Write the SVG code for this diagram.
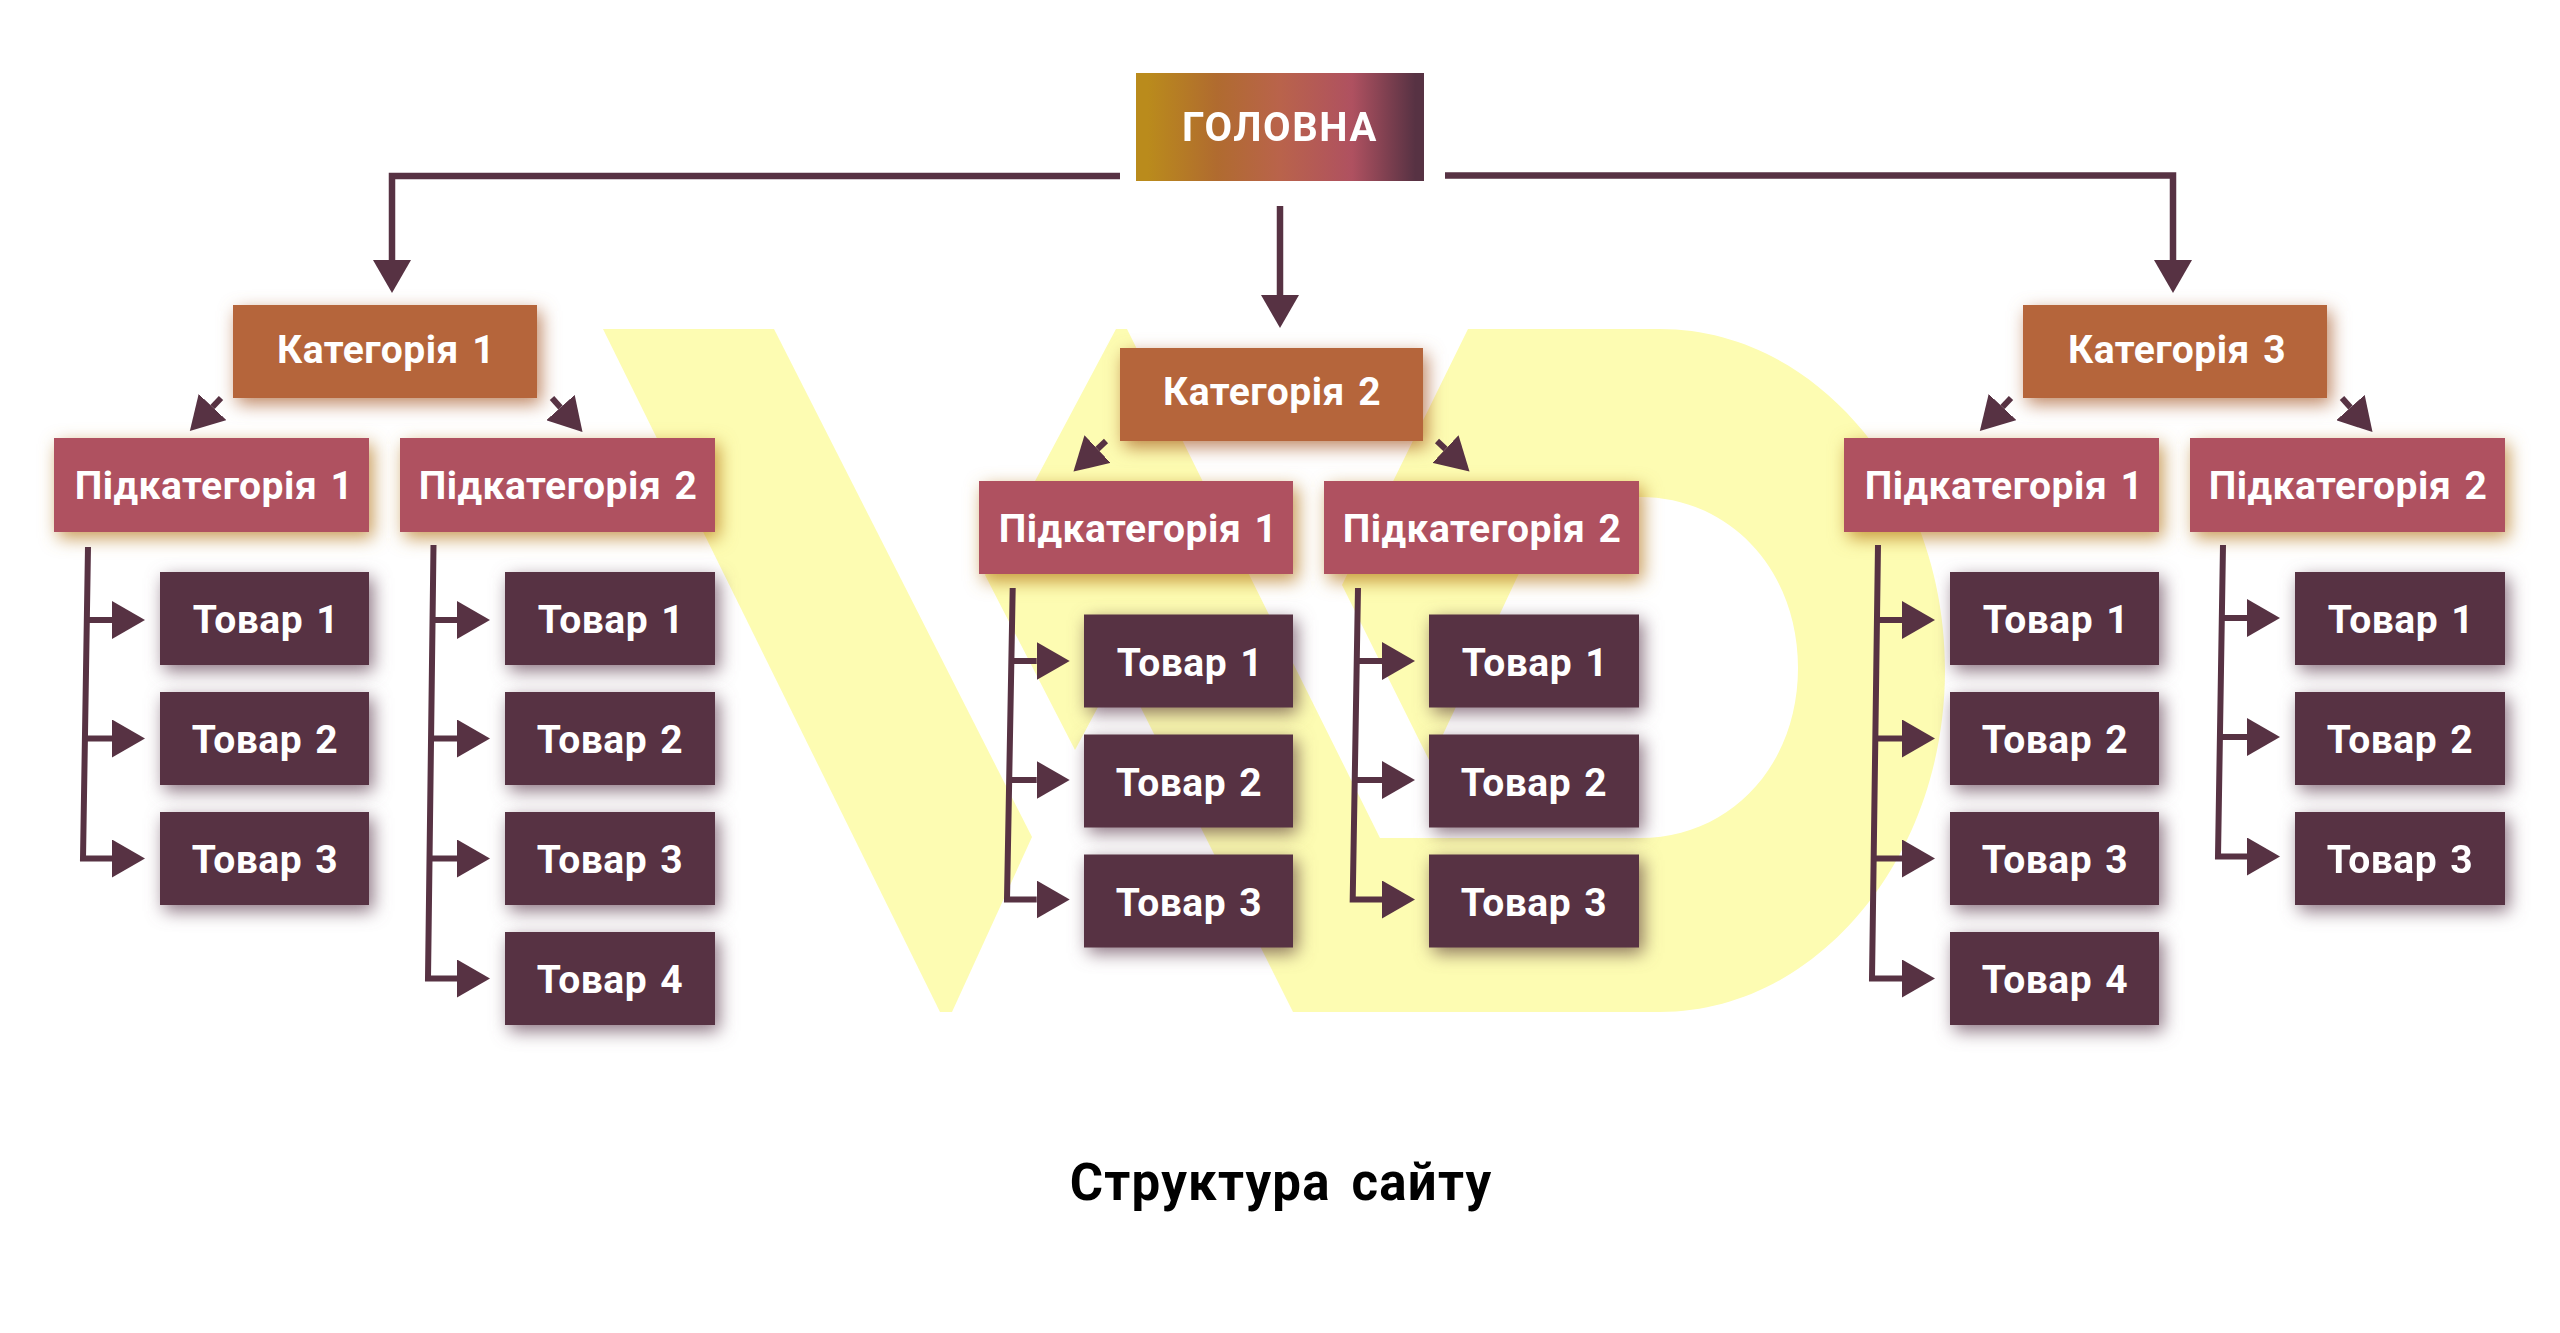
<svg xmlns="http://www.w3.org/2000/svg" width="2560" height="1333" viewBox="0 0 2560 1333">
<style>
text{font-family:Roboto,"Noto Sans","Liberation Sans",sans-serif;font-weight:700;fill:#fff;text-anchor:middle;word-spacing:3px;letter-spacing:.5px}
.t{font-size:39px}
.h{font-size:40px;letter-spacing:1.6px}
.title{font-size:51px;fill:#000;word-spacing:7px;letter-spacing:1.2px}
.kf{fill:#B5653B}.sf{fill:#AF5160}.pf{fill:#573243}
.ks,.ss,.ps{filter:url(#blur);mix-blend-mode:multiply}
.ks{fill:#BE8562}.ss{fill:#C89A55}.ps{fill:#8A7280}
.c{fill:none;stroke:#573243;stroke-width:6.5}
.a{fill:none;stroke:#573243;stroke-width:6;marker-end:url(#ah)}
</style>
<defs>
<filter id="blur" x="-30%" y="-50%" width="160%" height="200%"><feGaussianBlur stdDeviation="9"/></filter>
<linearGradient id="hg" x1="0" x2="1" y1="0" y2="0"><stop offset=".04" stop-color="#BA8B1C"/><stop offset=".28" stop-color="#B06B2F"/><stop offset=".5" stop-color="#B9634B"/><stop offset=".75" stop-color="#AF5160"/><stop offset=".97" stop-color="#573243"/></linearGradient>
<marker id="ah" markerUnits="userSpaceOnUse" markerWidth="34" markerHeight="38" refX="0" refY="19" orient="auto"><path d="M0,0L33,19L0,38Z" fill="#573243"/></marker>
</defs>
<rect width="2560" height="1333" fill="#fff"/>
<g id="watermark" fill="#FDFCB2">
<path d="M603,329L774,329L1032,837L952,1012L940,1012Z"/>
<path d="M1116,329L1127,329L1380,838L1640,838C1730,838 1798,766 1798,668C1798,570 1730,497 1640,497L1555,497L1430,762L1342,585L1468,329L1660,329C1817,329 1945,482 1945,670C1945,858 1817,1012 1660,1012L1293,1012L1120,666L1075,750L985,575Z"/>
</g>
<g id="head"><rect x="1136" y="73" width="288" height="108" fill="url(#hg)"/><text class="h" x="1280" y="141">ГОЛОВНА</text></g>

<g id="cat1"><rect class="ks" x="237" y="311" width="304" height="93"/><rect class="kf" x="233" y="305" width="304" height="93"/><text class="t" x="386" y="363">Категорія 1</text></g>
<g id="cat1-sub1"><rect class="ss" x="58" y="444" width="315" height="94"/><rect class="sf" x="54" y="438" width="315" height="94"/><text class="t" x="214" y="499">Підкатегорія 1</text></g>
<g id="cat1-sub2"><rect class="ss" x="404" y="444" width="315" height="94"/><rect class="sf" x="400" y="438" width="315" height="94"/><text class="t" x="558" y="499">Підкатегорія 2</text></g>
<g id="cat1-sub1-p1"><rect class="ps" x="164" y="578" width="209" height="93"/><rect class="pf" x="160" y="572" width="209" height="93"/><text class="t" x="266" y="633">Товар 1</text></g>
<g id="cat1-sub1-p2"><rect class="ps" x="164" y="698" width="209" height="93"/><rect class="pf" x="160" y="692" width="209" height="93"/><text class="t" x="265" y="753">Товар 2</text></g>
<g id="cat1-sub1-p3"><rect class="ps" x="164" y="818" width="209" height="93"/><rect class="pf" x="160" y="812" width="209" height="93"/><text class="t" x="265" y="873">Товар 3</text></g>
<g id="cat1-sub2-p1"><rect class="ps" x="509" y="578" width="210" height="93"/><rect class="pf" x="505" y="572" width="210" height="93"/><text class="t" x="611" y="633">Товар 1</text></g>
<g id="cat1-sub2-p2"><rect class="ps" x="509" y="698" width="210" height="93"/><rect class="pf" x="505" y="692" width="210" height="93"/><text class="t" x="610" y="753">Товар 2</text></g>
<g id="cat1-sub2-p3"><rect class="ps" x="509" y="818" width="210" height="93"/><rect class="pf" x="505" y="812" width="210" height="93"/><text class="t" x="610" y="873">Товар 3</text></g>
<g id="cat1-sub2-p4"><rect class="ps" x="509" y="938" width="210" height="93"/><rect class="pf" x="505" y="932" width="210" height="93"/><text class="t" x="610" y="993">Товар 4</text></g>

<g id="cat2"><rect class="ks" x="1124" y="354" width="303" height="93"/><rect class="kf" x="1120" y="348" width="303" height="93"/><text class="t" x="1272" y="405">Категорія 2</text></g>
<g id="cat2-sub1"><rect class="ss" x="983" y="487" width="315" height="94"/><rect class="sf" x="979" y="481" width="314" height="93"/><text class="t" x="1138" y="542">Підкатегорія 1</text></g>
<g id="cat2-sub2"><rect class="ss" x="1328" y="487" width="315" height="94"/><rect class="sf" x="1324" y="481" width="315" height="93"/><text class="t" x="1482" y="542">Підкатегорія 2</text></g>
<g id="cat2-sub1-p1"><rect class="ps" x="1088" y="620" width="209" height="93"/><rect class="pf" x="1084" y="614.5" width="209" height="93"/><text class="t" x="1190" y="676">Товар 1</text></g>
<g id="cat2-sub1-p2"><rect class="ps" x="1088" y="740" width="209" height="93"/><rect class="pf" x="1084" y="734.5" width="209" height="93"/><text class="t" x="1189" y="796">Товар 2</text></g>
<g id="cat2-sub1-p3"><rect class="ps" x="1088" y="860" width="209" height="93"/><rect class="pf" x="1084" y="854.5" width="209" height="93"/><text class="t" x="1189" y="916">Товар 3</text></g>
<g id="cat2-sub2-p1"><rect class="ps" x="1433" y="620" width="210" height="93"/><rect class="pf" x="1429" y="614.5" width="210" height="93"/><text class="t" x="1535" y="676">Товар 1</text></g>
<g id="cat2-sub2-p2"><rect class="ps" x="1433" y="740" width="210" height="93"/><rect class="pf" x="1429" y="734.5" width="210" height="93"/><text class="t" x="1534" y="796">Товар 2</text></g>
<g id="cat2-sub2-p3"><rect class="ps" x="1433" y="860" width="210" height="93"/><rect class="pf" x="1429" y="854.5" width="210" height="93"/><text class="t" x="1534" y="916">Товар 3</text></g>

<g id="cat3"><rect class="ks" x="2027" y="311" width="304" height="93"/><rect class="kf" x="2023" y="305" width="304" height="93"/><text class="t" x="2177" y="363">Категорія 3</text></g>
<g id="cat3-sub1"><rect class="ss" x="1848" y="444" width="315" height="94"/><rect class="sf" x="1844" y="438" width="315" height="94"/><text class="t" x="2004" y="499">Підкатегорія 1</text></g>
<g id="cat3-sub2"><rect class="ss" x="2194" y="444" width="315" height="94"/><rect class="sf" x="2190" y="438" width="315" height="94"/><text class="t" x="2348" y="499">Підкатегорія 2</text></g>
<g id="cat3-sub1-p1"><rect class="ps" x="1954" y="578" width="209" height="93"/><rect class="pf" x="1950" y="572" width="209" height="93"/><text class="t" x="2056" y="633">Товар 1</text></g>
<g id="cat3-sub1-p2"><rect class="ps" x="1954" y="698" width="209" height="93"/><rect class="pf" x="1950" y="692" width="209" height="93"/><text class="t" x="2055" y="753">Товар 2</text></g>
<g id="cat3-sub1-p3"><rect class="ps" x="1954" y="818" width="209" height="93"/><rect class="pf" x="1950" y="812" width="209" height="93"/><text class="t" x="2055" y="873">Товар 3</text></g>
<g id="cat3-sub1-p4"><rect class="ps" x="1954" y="938" width="209" height="93"/><rect class="pf" x="1950" y="932" width="209" height="93"/><text class="t" x="2055" y="993">Товар 4</text></g>
<g id="cat3-sub2-p1"><rect class="ps" x="2299" y="578" width="210" height="93"/><rect class="pf" x="2295" y="572" width="210" height="93"/><text class="t" x="2401" y="633">Товар 1</text></g>
<g id="cat3-sub2-p2"><rect class="ps" x="2299" y="698" width="210" height="93"/><rect class="pf" x="2295" y="692" width="210" height="93"/><text class="t" x="2400" y="753">Товар 2</text></g>
<g id="cat3-sub2-p3"><rect class="ps" x="2299" y="818" width="210" height="93"/><rect class="pf" x="2295" y="812" width="210" height="93"/><text class="t" x="2400" y="873">Товар 3</text></g>

<g id="connectors">
<path class="c" marker-end="url(#ah)" d="M1120,176L392,176L392,260"/>
<path class="c" marker-end="url(#ah)" d="M1445,175.5L2173,175.5L2173,260"/>
<path class="c" marker-end="url(#ah)" d="M1280,206L1280,295"/>

<path class="a" d="M221,398L212.5,407"/><path class="a" d="M552,398L560.5,407.5"/>
<path class="a" d="M1106,441L1097.5,449"/><path class="a" d="M1437,441L1445.5,449"/>
<path class="a" d="M2011,398L2002.5,407"/><path class="a" d="M2342,398L2350.5,407.5"/>

<path class="a" d="M87.7,620L112,620"/><path class="a" d="M85.5,738.5L112,738.5"/><path class="a" d="M88,547L83,858.5L112,858.5"/>
<path class="a" d="M433,620L457,620"/><path class="a" d="M431,738.5L457,738.5"/><path class="a" d="M430,858.5L457,858.5"/><path class="a" d="M433.5,545L428,978.5L457,978.5"/>

<path class="a" d="M1012,661L1036.7,661"/><path class="a" d="M1010,780L1036.7,780"/><path class="a" d="M1012.7,588L1007,899.5L1036.7,899.5"/>
<path class="a" d="M1358,661L1382,661"/><path class="a" d="M1356,780L1382,780"/><path class="a" d="M1358,588L1352.7,899.5L1382,899.5"/>

<path class="a" d="M1877,620L1902,620"/><path class="a" d="M1875.5,738.5L1902,738.5"/><path class="a" d="M1875,858.5L1902,858.5"/><path class="a" d="M1878,545L1872,978.5L1902,978.5"/>
<path class="a" d="M2222,618L2247,618"/><path class="a" d="M2220,737L2247,737"/><path class="a" d="M2223,545L2218,856.5L2247,856.5"/>
</g>
<text class="title" x="1281" y="1200">Структура сайту</text>
</svg>
